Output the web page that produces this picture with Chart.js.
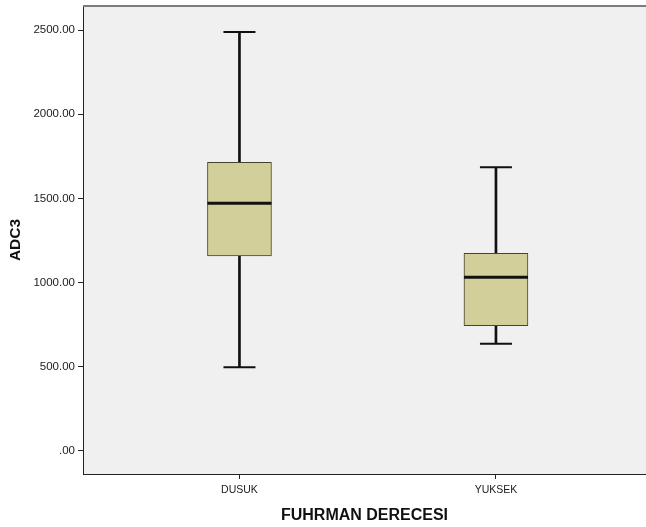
<!DOCTYPE html>
<html>
<head>
<meta charset="utf-8">
<script src="https://cdn.jsdelivr.net/npm/chart.js@4"></script>
<style>
  body { margin: 0; background: #fff; }
  #wrap { width: 646px; height: 527px; }
</style>
</head>
<body>
<div id="wrap"><canvas id="adcBox"></canvas></div>
<script>
// ADC3 by Fuhrman grade (boxplot summary)
const categories = ['DUSUK', 'YUKSEK'];
const whiskerLow = [497, 637];
const q1 = [1158, 744];
const median = [1471, 1031];
const q3 = [1714, 1174];
const whiskerHigh = [2488, 1685];
const yTicks = [0, 500, 1000, 1500, 2000, 2500];

const font = 'Liberation Sans, Arial, sans-serif';
const pos = categories.map((c, i) => i + 1);

function pts(values) {
    return values.map((v, i) => ({ x: pos[i], y: v }));
}
function ranges(lo, hi) {
    return lo.map((v, i) => ({ x: pos[i], y: [v, hi[i]] }));
}

// grey plot background and the thin top frame line
const plotFrame = {
    id: 'plotFrame',
    beforeDraw(chart) {
        const a = chart.chartArea, ctx = chart.ctx;
        ctx.save();
        ctx.fillStyle = '#f0f0f0';
        ctx.fillRect(a.left, a.top, a.right - a.left, a.bottom - a.top);
        ctx.restore();
    },
    afterDraw(chart) {
        const a = chart.chartArea, ctx = chart.ctx;
        ctx.save();
        ctx.strokeStyle = '#7c7c7c';
        ctx.lineWidth = 2;
        ctx.beginPath();
        ctx.moveTo(a.left, a.top);
        ctx.lineTo(a.right, a.top);
        ctx.stroke();
        ctx.restore();
    }
};

const boxes = {
    type: 'bar',
    data: {
        datasets: [
            {
                label: 'box',
                data: ranges(q1, q3),
                backgroundColor: '#d3cf9a',
                borderColor: '#45432f',
                borderWidth: 1,
                borderSkipped: false,
                barThickness: 64,
                grouped: false,
                order: 2
            },
            {
                label: 'whisker',
                data: ranges(whiskerLow, whiskerHigh),
                backgroundColor: '#111',
                barThickness: 2,
                grouped: false,
                order: 3
            },
            {
                type: 'line',
                label: 'median',
                data: pts(median),
                showLine: false,
                pointStyle: 'line',
                pointRadius: 32,
                pointBorderWidth: 3,
                pointBorderColor: '#111',
                order: 1
            },
            {
                type: 'line',
                label: 'caps',
                data: pts(whiskerHigh).concat(pts(whiskerLow)),
                showLine: false,
                pointStyle: 'line',
                pointRadius: 16,
                pointBorderWidth: 2,
                pointBorderColor: '#111',
                order: 1
            }
        ]
    },
    options: {
        responsive: true,
        maintainAspectRatio: false,
        animation: false,
        events: [],
        layout: { autoPadding: false, padding: { top: 6, left: 0, right: 0, bottom: 0 } },
        plugins: { legend: { display: false }, tooltip: { enabled: false } },
        scales: {
            x: {
                type: 'linear',
                offset: false,
                min: 0.39,
                max: 2.585,
                afterBuildTicks: s => { s.ticks = pos.map(v => ({ value: v })); },
                afterFit: s => { s.height = 53; s.paddingLeft = 0; s.paddingRight = 0; },
                grid: { offset: false, drawOnChartArea: false, drawTicks: true, tickLength: 5, tickColor: '#222' },
                border: { display: true, color: '#222', width: 1 },
                ticks: {
                    padding: 5,
                    color: '#1a1a1a',
                    font: { family: font, size: 10.5 },
                    callback: v => categories[v - 1]
                },
                title: {
                    display: true,
                    text: 'FUHRMAN DERECESI',
                    color: '#111',
                    font: { family: font, size: 16, weight: 'bold' },
                    padding: { top: 2, bottom: 2 }
                }
            },
            y: {
                min: -137,
                max: 2643,
                afterBuildTicks: s => { s.ticks = yTicks.map(v => ({ value: v })); },
                afterFit: s => { s.width = 83; s.paddingTop = 0; s.paddingBottom = 0; },
                grid: { drawOnChartArea: false, drawTicks: true, tickLength: 5, tickColor: '#222' },
                border: { display: true, color: '#222', width: 1 },
                ticks: {
                    padding: 3,
                    color: '#1a1a1a',
                    font: { family: font, size: 11.5 },
                    callback: v => v === 0 ? '.00' : v.toFixed(2)
                },
                title: {
                    display: true,
                    text: 'ADC3',
                    color: '#111',
                    font: { family: font, size: 15.5, weight: 'bold' },
                    padding: { top: 6, bottom: 6 }
                }
            }
        }
    },
    plugins: [plotFrame]
};

new Chart(document.getElementById('adcBox'), boxes);
</script>
</body>
</html>
